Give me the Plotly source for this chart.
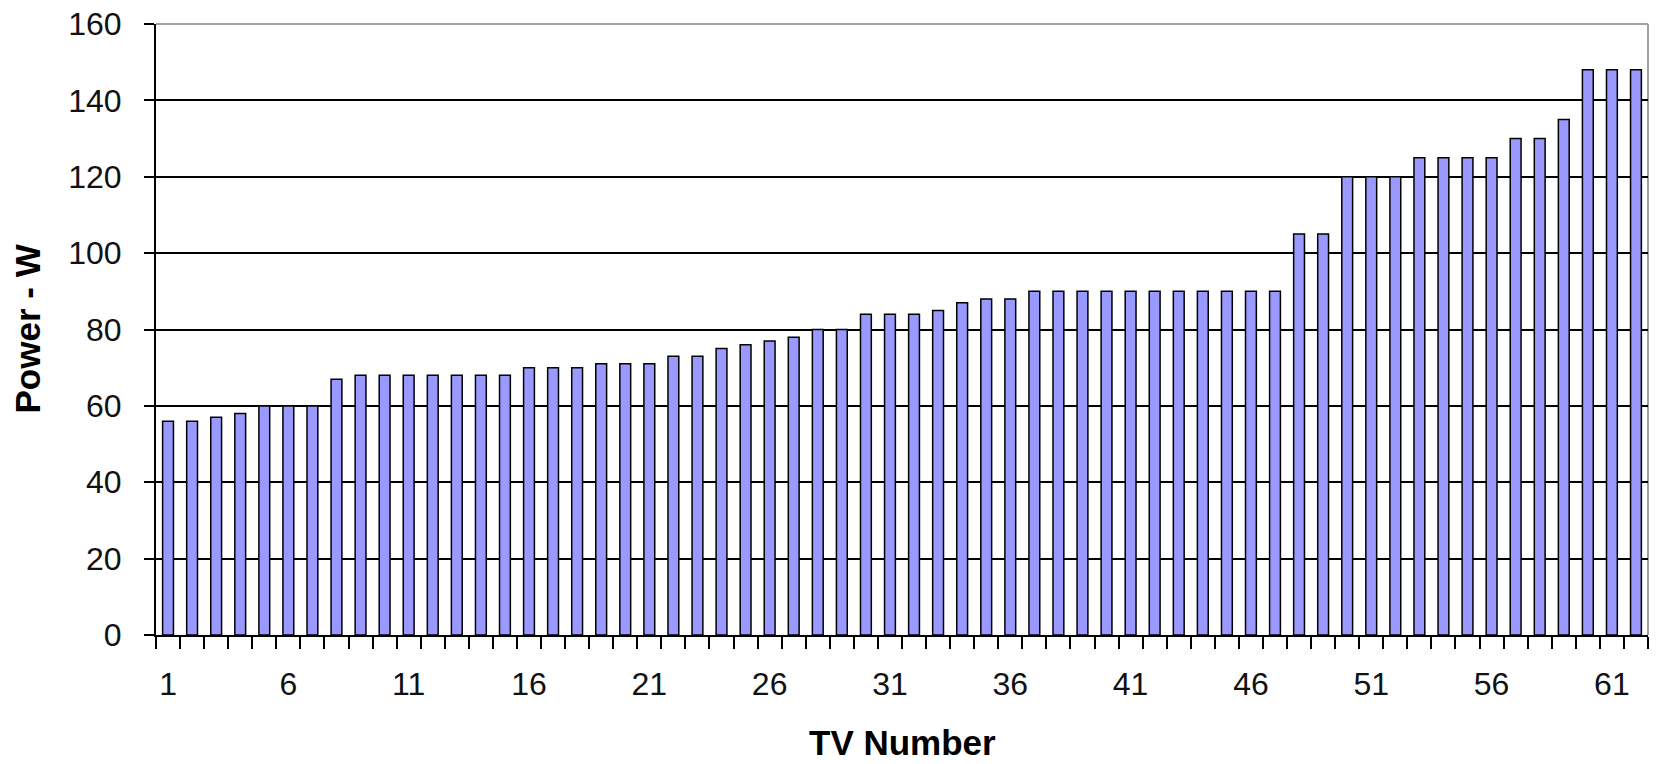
import plotly.graph_objects as go

tv_numbers = list(range(1, 63))
power_w = [56, 56, 57, 58, 60, 60, 60, 67, 68, 68,
           68, 68, 68, 68, 68, 70, 70, 70, 71, 71,
           71, 73, 73, 75, 76, 77, 78, 80, 80, 84,
           84, 84, 85, 87, 88, 88, 90, 90, 90, 90,
           90, 90, 90, 90, 90, 90, 90, 105, 105, 120,
           120, 120, 125, 125, 125, 125, 130, 130, 135, 148,
           148, 148]
x_tick_vals = [1, 6, 11, 16, 21, 26, 31, 36, 41, 46, 51, 56, 61]
x_tick_text = [str(v) for v in x_tick_vals]
y_tick_vals = [0, 20, 40, 60, 80, 100, 120, 140, 160]

FONT = "Liberation Sans, Arial, sans-serif"

fig = go.Figure(
    go.Bar(
        x=tv_numbers,
        y=power_w,
        marker=dict(color="#9999FF", line=dict(color="black", width=1.5)),
        width=0.45,
    )
)

# page body has an 8px margin; figure sized so plot area lands where reference has it
fig.update_layout(
    width=1651,
    height=756,
    margin=dict(l=148, r=11, t=16, b=129),
    paper_bgcolor="white",
    plot_bgcolor="white",
    showlegend=False,
    font=dict(family=FONT, color="black"),
    xaxis=dict(
        range=[0.5, 62.5],
        tickmode="array",
        tickvals=x_tick_vals,
        ticktext=x_tick_text,
        ticks="",
        showgrid=False,
        zeroline=False,
        showline=True,
        linecolor="black",
        linewidth=2,
        automargin=False,
        ticklabeloverflow="allow",
        tickfont=dict(size=32, family=FONT, color="#111"),
        ticklabelstandoff=20,
        minor=dict(ticks="outside", tickmode="linear", tick0=0.5, dtick=1,
                   ticklen=12, tickwidth=2, tickcolor="black", showgrid=False),
    ),
    yaxis=dict(
        range=[0, 160],
        tickmode="array",
        tickvals=y_tick_vals,
        ticks="outside",
        ticklen=10,
        tickwidth=2,
        tickcolor="black",
        showgrid=True,
        gridcolor="black",
        gridwidth=1.5,
        zeroline=False,
        showline=True,
        linecolor="black",
        linewidth=2,
        automargin=False,
        ticklabeloverflow="allow",
        tickfont=dict(size=32, family=FONT, color="#111"),
        ticklabelstandoff=16,
    ),
    shapes=[
        dict(type="line", xref="paper", yref="paper", x0=0, x1=1, y0=1, y1=1,
             line=dict(color="#A0A0A0", width=2), layer="above"),
        dict(type="line", xref="paper", yref="paper", x0=1, x1=1, y0=0, y1=1,
             line=dict(color="#A0A0A0", width=2), layer="below"),
    ],
    annotations=[
        dict(text="<b>TV Number</b>", xref="paper", yref="paper", x=0.5, y=0,
             yshift=-107, xanchor="center", yanchor="middle", showarrow=False,
             font=dict(size=35, family=FONT, color="black")),
        dict(text="<b>Power - W</b>", xref="paper", yref="paper", x=0, y=0.5,
             xshift=-129, xanchor="center", yanchor="middle", showarrow=False,
             textangle=-90, font=dict(size=35, family=FONT, color="black")),
    ],
)

fig.write_html("out.html")
